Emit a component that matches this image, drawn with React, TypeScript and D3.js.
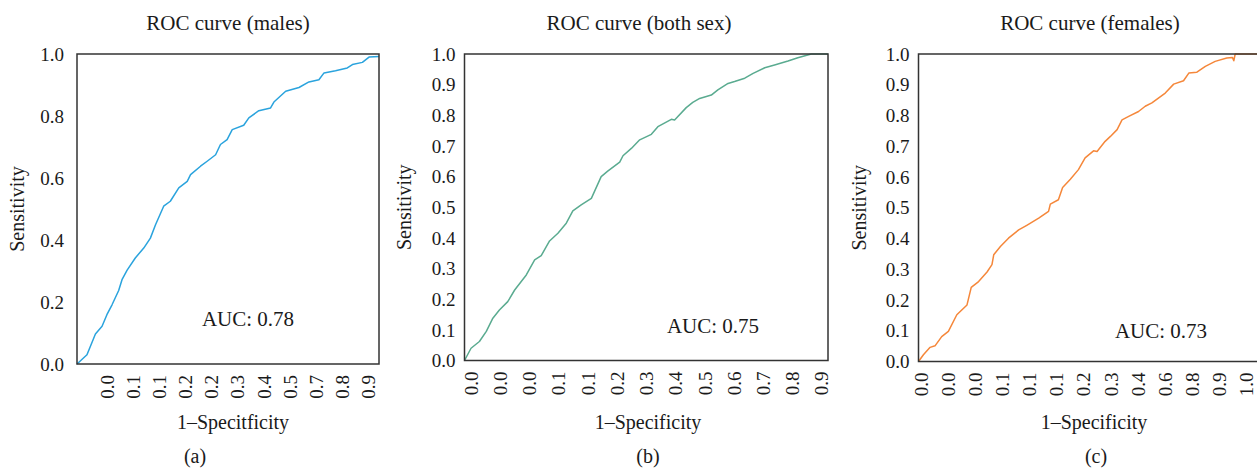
import React, { useEffect, useRef } from 'react';
import * as d3 from 'd3';

// position along the category axis (0..1) and sensitivity
const malesPos = [0, .033, .061, .083, .099, .116, .138, .149, .166, .193, .221, .243, .26, .287, .309, .337, .365, .376, .409, .431, .459, .475, .497, .514, .552, .569, .602, .641, .652, .691, .735, .768, .801, .818, .856, .895, .912, .945, .967, 1];
const malesSens = [0, .03, .097, .122, .159, .191, .237, .272, .303, .342, .374, .406, .449, .509, .525, .568, .589, .611, .638, .654, .675, .708, .724, .756, .77, .794, .817, .826, .845, .88, .892, .91, .917, .939, .946, .955, .966, .973, .99, .992];

const bothPos = [0, .018, .041, .06, .078, .096, .119, .138, .17, .193, .211, .234, .257, .28, .298, .321, .349, .376, .394, .427, .436, .459, .482, .514, .532, .569, .578, .61, .628, .647, .679, .697, .725, .743, .771, .794, .826, .853, .89, .917, .954, 1];
const bothSens = [0, .04, .062, .095, .138, .165, .192, .23, .279, .328, .342, .39, .415, .448, .488, .508, .529, .6, .618, .647, .668, .692, .72, .738, .763, .787, .785, .825, .842, .855, .866, .883, .904, .91, .921, .937, .955, .964, .977, .988, 1, 1];

const femalesPos = [0, .014, .033, .047, .066, .085, .109, .138, .15, .171, .195, .209, .214, .233, .256, .285, .308, .342, .37, .375, .398, .41, .432, .455, .474, .498, .508, .531, .546, .565, .579, .598, .626, .645, .664, .702, .726, .754, .769, .792, .816, .844, .877, .893, .897, .901, 1];
const femalesSens = [0, .022, .046, .051, .081, .098, .152, .184, .241, .26, .291, .315, .347, .374, .401, .428, .443, .466, .488, .512, .526, .566, .593, .624, .662, .685, .683, .716, .732, .754, .786, .797, .813, .83, .841, .873, .902, .913, .938, .941, .96, .976, .987, .989, .978, 1, 1];

const malesTicks = ['0.0', '0.1', '0.1', '0.2', '0.2', '0.3', '0.4', '0.5', '0.7', '0.8', '0.9'];
const bothTicks = ['0.0', '0.0', '0.0', '0.1', '0.1', '0.2', '0.3', '0.4', '0.5', '0.6', '0.7', '0.8', '0.9'];
const femalesTicks = ['0.0', '0.0', '0.0', '0.1', '0.1', '0.1', '0.2', '0.3', '0.4', '0.6', '0.8', '0.9', '1.0'];

const malesYTicks = [0, 0.2, 0.4, 0.6, 0.8, 1.0];
const tenthYTicks = [0, 0.1, 0.2, 0.3, 0.4, 0.5, 0.6, 0.7, 0.8, 0.9, 1.0];

const panels = [
  {
    title: 'ROC curve (males)', tag: '(a)', auc: 'AUC: 0.78', xTitle: '1–Specitficity',
    pos: malesPos, sens: malesSens, ticks: malesTicks, yTicks: malesYTicks, color: '#2aa3dd',
    box: [77, 379, 54, 364], tickSpan: [0.101, 0.964], yGap: 13,
    titleX: 228, xTitleX: 233, tagX: 195, aucX: 248, aucY: 326, yLabelX: 24,
  },
  {
    title: 'ROC curve (both sex)', tag: '(b)', auc: 'AUC: 0.75', xTitle: '1–Specificity',
    pos: bothPos, sens: bothSens, ticks: bothTicks, yTicks: tenthYTicks, color: '#5aab90',
    box: [464.5, 828, 54, 360.5], tickSpan: [0.018, 0.983], yGap: 9,
    titleX: 639, xTitleX: 648, tagX: 648, aucX: 713, aucY: 333, yLabelX: 411,
  },
  {
    title: 'ROC curve (females)', tag: '(c)', auc: 'AUC: 0.73', xTitle: '1–Specificity',
    pos: femalesPos, sens: femalesSens, ticks: femalesTicks, yTicks: tenthYTicks, color: '#f5873a',
    box: [918.5, 1270, 54, 361.5], tickSpan: [0.0085, 0.932], yGap: 9,
    titleX: 1090, xTitleX: 1094, tagX: 1096, aucX: 1161, aucY: 338, yLabelX: 866,
  },
];

const font = '"Liberation Serif", "Times New Roman", serif';

export default function App() {
  const ref = useRef<SVGSVGElement>(null);

  useEffect(() => {
    const svg = d3.select(ref.current);
    svg.selectAll('*').remove();

    panels.forEach(p => {
      const [l, r, t, b] = p.box;
      const x = d3.scaleLinear().domain([0, 1]).range([l, r]);
      const y = d3.scaleLinear().domain([0, 1]).range([b, t]);
      const xt = d3.scalePoint<number>()
        .domain(p.ticks.map((_, i) => i))
        .range([x(p.tickSpan[0]), x(p.tickSpan[1])]);
      const g = svg.append('g').style('font-family', font).attr('fill', '#1a1a1a');

      // curve
      const line = d3.line<number>()
        .x((_, i) => x(p.pos[i]))
        .y(d => y(d))
        .curve(d3.curveLinear);
      g.append('path')
        .datum(p.sens)
        .attr('d', line)
        .attr('fill', 'none')
        .attr('stroke', p.color)
        .attr('stroke-width', 1.5)
        .attr('stroke-linejoin', 'round');

      // frame
      g.append('rect')
        .attr('x', l).attr('y', t)
        .attr('width', r - l).attr('height', b - t)
        .attr('fill', 'none')
        .attr('stroke', '#333')
        .attr('stroke-width', 1.5);

      // y tick labels
      g.selectAll('.yt')
        .data(p.yTicks)
        .enter()
        .append('text')
        .attr('x', l - p.yGap)
        .attr('y', d => y(d))
        .attr('dy', '0.35em')
        .attr('text-anchor', 'end')
        .style('font-size', '19px')
        .text(d => d.toFixed(1));

      // x tick labels, rotated
      g.selectAll('.xt')
        .data(p.ticks)
        .enter()
        .append('text')
        .attr('transform', (_, i) => `translate(${xt(i)},${b + 11}) rotate(-90)`)
        .attr('dy', '0.35em')
        .attr('text-anchor', 'end')
        .style('font-size', '19px')
        .text(d => d);

      g.append('text')
        .attr('x', p.titleX).attr('y', 30)
        .attr('text-anchor', 'middle')
        .style('font-size', '21px')
        .text(p.title);

      g.append('text')
        .attr('transform', `translate(${p.yLabelX},${(t + b) / 2}) rotate(-90)`)
        .attr('text-anchor', 'middle')
        .style('font-size', '20px')
        .text('Sensitivity');

      g.append('text')
        .attr('x', p.xTitleX).attr('y', 429)
        .attr('text-anchor', 'middle')
        .style('font-size', '20px')
        .text(p.xTitle);

      g.append('text')
        .attr('x', p.tagX).attr('y', 463)
        .attr('text-anchor', 'middle')
        .style('font-size', '20px')
        .text(p.tag);

      g.append('text')
        .attr('x', p.aucX).attr('y', p.aucY)
        .attr('text-anchor', 'middle')
        .style('font-size', '21px')
        .text(p.auc);
    });
  }, []);

  return (
    <svg
      ref={ref}
      width={1257}
      height={468}
      style={{ position: 'absolute', left: 0, top: 0, background: '#fff' }}
    />
  );
}
